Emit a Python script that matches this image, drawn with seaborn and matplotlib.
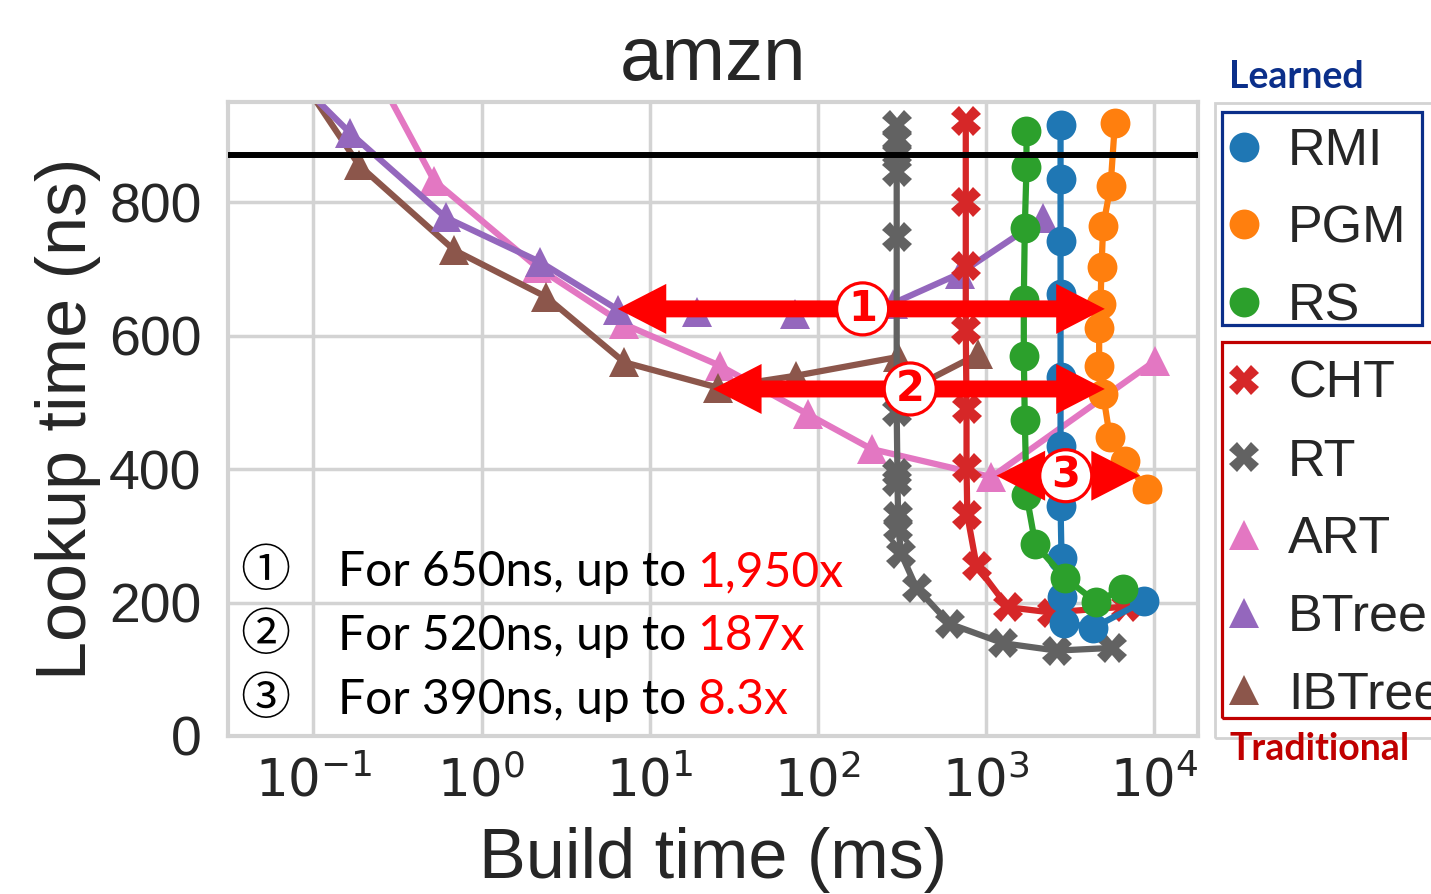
import numpy as np
import pandas as pd
import matplotlib
matplotlib.use("Agg")
import matplotlib.pyplot as plt
import seaborn as sns
from matplotlib.lines import Line2D
from matplotlib.patches import Rectangle
from matplotlib.ticker import NullLocator

# ---------------- data ----------------
rmi_build = [2784, 2784, 2784, 2784, 2784, 2784, 2784, 2822, 2822, 2912, 4355, 8710]
rmi_lookup = [916, 834, 742, 662, 538, 435, 345, 266, 208, 170, 162, 202]

pgm_build = [5860, 5525, 4990, 4880, 4815, 4725, 4725, 4990, 5470, 6720, 9040]
pgm_lookup = [918, 824, 764, 703, 648, 611, 555, 512, 448, 412, 370]

rs_build = [1746, 1746, 1706, 1683, 1683, 1706, 1746, 1972, 2954, 4520, 6575]
rs_lookup = [907, 852, 761, 654, 569, 474, 361, 287, 237, 201, 221]

cht_build = [760, 760, 760, 760, 768, 768, 776, 881, 1352, 2472, 6810]
cht_lookup = [922, 800, 705, 608, 490, 402, 331, 255, 193, 185, 194]

rt_build = [295, 295, 295, 295, 295, 295, 298, 298, 301, 301, 315, 387, 611, 1268, 2636, 5660]
rt_lookup = [915, 892, 874, 845, 747, 485, 394, 380, 330, 312, 272, 222, 168, 139, 128, 132]

art_build = [0.14, 0.523, 2.15, 7.06, 26.1, 87.5, 209, 1081, 10140]
art_lookup = [1100, 832, 702, 617, 555, 482, 430, 388, 562]

btree_build = [0.068, 0.166, 0.611, 2.24, 6.45, 19.1, 72.9, 279, 700, 2183]
btree_lookup = [1000, 903, 777, 710, 639, 636, 633, 648, 693, 776]

ibtree_build = [0.077, 0.187, 0.688, 2.42, 7.06, 25.5, 74.7, 301, 321, 900]
ibtree_lookup = [1000, 855, 728, 658, 560, 522, 540, 568, 514, 572]

legend_order = ["RMI", "PGM", "RS", "CHT", "RT", "ART", "BTree", "IBTree"]
draw_order = ["ART", "IBTree", "BTree", "RT", "CHT", "RMI", "PGM", "RS"]
series = {
    "RMI": (rmi_build, rmi_lookup),
    "PGM": (pgm_build, pgm_lookup),
    "RS": (rs_build, rs_lookup),
    "CHT": (cht_build, cht_lookup),
    "RT": (rt_build, rt_lookup),
    "ART": (art_build, art_lookup),
    "BTree": (btree_build, btree_lookup),
    "IBTree": (ibtree_build, ibtree_lookup),
}
colors = {"RMI": "#1f77b4", "PGM": "#ff7f0e", "RS": "#2ca02c", "CHT": "#d62728",
          "RT": "#626262", "ART": "#e377c2", "BTree": "#9467bd", "IBTree": "#8c564b"}
markers = {"RMI": "o", "PGM": "o", "RS": "o", "CHT": "X", "RT": "X",
           "ART": "^", "BTree": "^", "IBTree": "^"}
msizes = {"o": 21.5, "X": 21, "^": 21}

threshold = 870
arrows = [(6.45, 5105, 640, "1", 185), (23.8, 5105, 520, "2", 355), (1158, 8260, 390, "3", 2990)]
xtick_vals = [0.1, 1, 10, 100, 1000, 10000]
xtick_labels = ["$10^{-1}$", "$10^{0}$", "$10^{1}$", "$10^{2}$", "$10^{3}$", "$10^{4}$"]
notes = [("①", "For 650ns, up to ", "1,950x"),
         ("②", "For 520ns, up to ", "187x"),
         ("③", "For 390ns, up to ", "8.3x")]

# ---------------- style ----------------
sns.set_theme(style="whitegrid", rc={
    "grid.color": "#d3d3d3", "grid.linewidth": 2.5,
    "axes.edgecolor": "#d3d3d3", "axes.linewidth": 3,
    "text.color": "#262626", "axes.labelcolor": "#262626",
    "xtick.color": "#262626", "ytick.color": "#262626",
})
plt.rcParams["font.family"] = ["Liberation Sans", "DejaVu Sans"]
plt.rcParams["mathtext.fontset"] = "dejavusans"

W, H = 1431, 894
fig = plt.figure(figsize=(W / 100, H / 100), dpi=100)
ax = fig.add_axes([228 / W, 1 - 736 / H, 970 / W, 634 / H])

for name in draw_order:
    bx, ly = series[name]
    df = pd.DataFrame({"build": bx, "lookup": ly})
    m = markers[name]
    sns.lineplot(data=df, x="build", y="lookup", sort=False, estimator=None,
                 color=colors[name], marker=m, markersize=msizes[m],
                 markeredgewidth=0, linewidth=4.5, ax=ax, legend=False)

ax.axhline(threshold, color="black", lw=4.3, zorder=3)

ax.set_xscale("log")
ax.set_xlim(0.031, 18300)
ax.set_ylim(0, 950)
ax.set_xticks(xtick_vals)
ax.set_xticklabels(xtick_labels)
ax.xaxis.set_minor_locator(NullLocator())
ax.set_yticks([0, 200, 400, 600, 800])
ax.tick_params(axis="both", length=0)
ax.tick_params(axis="y", pad=19, labelsize=40)
ax.tick_params(axis="x", pad=15, labelsize=37)
ax.set_xlabel("Build time (ms)", fontsize=50.5, labelpad=14)
ax.set_ylabel("Lookup time (ns)", fontsize=50.5, labelpad=6)
ax.set_title("amzn", fontsize=55, pad=16)

# arrows
for x0, x1, y, lab, xc in arrows:
    xm = 10 ** ((np.log10(x0) + np.log10(x1)) / 2)
    for xe in (x0, x1):
        ax.annotate("", xy=(xe, y), xytext=(xm, y),
                    arrowprops=dict(arrowstyle="simple,head_length=3.5,head_width=3.6,tail_width=1.22",
                                    mutation_scale=10, fc="red", ec="none", lw=0,
                                    shrinkA=0, shrinkB=0), zorder=5)
    ax.text(xc, y, lab, ha="center", va="center", color="red", fontsize=30,
            fontweight="bold", family="DejaVu Sans", zorder=6,
            bbox=dict(boxstyle="circle,pad=0.12", fc="white", ec="red", lw=2.3))

# notes
fam = ["Lato", "Noto Sans CJK JP", "DejaVu Sans"]
ys = [0.2587, 0.1577, 0.0568]
for (c, t, r), y in zip(notes, ys):
    ax.text(0.038, y, c, transform=ax.transAxes, ha="center", va="center",
            fontsize=36, color="black", family=["Noto Sans CJK JP", "DejaVu Sans"], zorder=6)
    tobj = ax.text(0.1134, y, t.rstrip(), transform=ax.transAxes, ha="left", va="center",
                   fontsize=34.6, color="black", family=fam, zorder=6)
    ax.annotate(r, xy=(1, 0), xycoords=tobj, xytext=(8, 0), textcoords="offset points",
                ha="left", va="bottom", fontsize=34.6, color="red", family=fam, zorder=6)

# legend (frame drawn separately)
handles = [Line2D([], [], color=colors[n], marker=markers[n], linestyle="none",
                  markersize=msizes[markers[n]], markeredgewidth=0) for n in legend_order]
leg = fig.legend(handles, legend_order, loc="upper left",
                 bbox_to_anchor=(1215 / W, 1 - 103 / H), bbox_transform=fig.transFigure,
                 borderaxespad=0, fontsize=37.5, labelspacing=0.55, borderpad=0.46,
                 handlelength=0.2, handletextpad=0.74, frameon=False)

fig.add_artist(Rectangle((1215 / W, 1 - 738 / H), 260 / W, 635 / H, transform=fig.transFigure,
                         fill=False, ec="#d3d3d3", lw=2, zorder=9))
fig.add_artist(Rectangle((1222 / W, 1 - 325 / H), 200 / W, 213 / H, transform=fig.transFigure,
                         fill=False, ec="#0b2f8a", lw=2.3, zorder=10))
fig.add_artist(Rectangle((1222 / W, 1 - 718 / H), 260 / W, 376 / H, transform=fig.transFigure,
                         fill=False, ec="#c00000", lw=2.3, zorder=10))
fig.text(1296 / W, 1 - 77 / H, "Learned", ha="center", va="center", fontsize=27,
         fontweight="bold", color="#0b2f8a", family=["Lato", "DejaVu Sans"], zorder=11)
fig.text(1320 / W, 1 - 749 / H, "Traditional", ha="center", va="center", fontsize=27,
         fontweight="bold", color="#c00000", family=["Lato", "DejaVu Sans"], zorder=11)

fig.savefig("out.png", dpi=100)
